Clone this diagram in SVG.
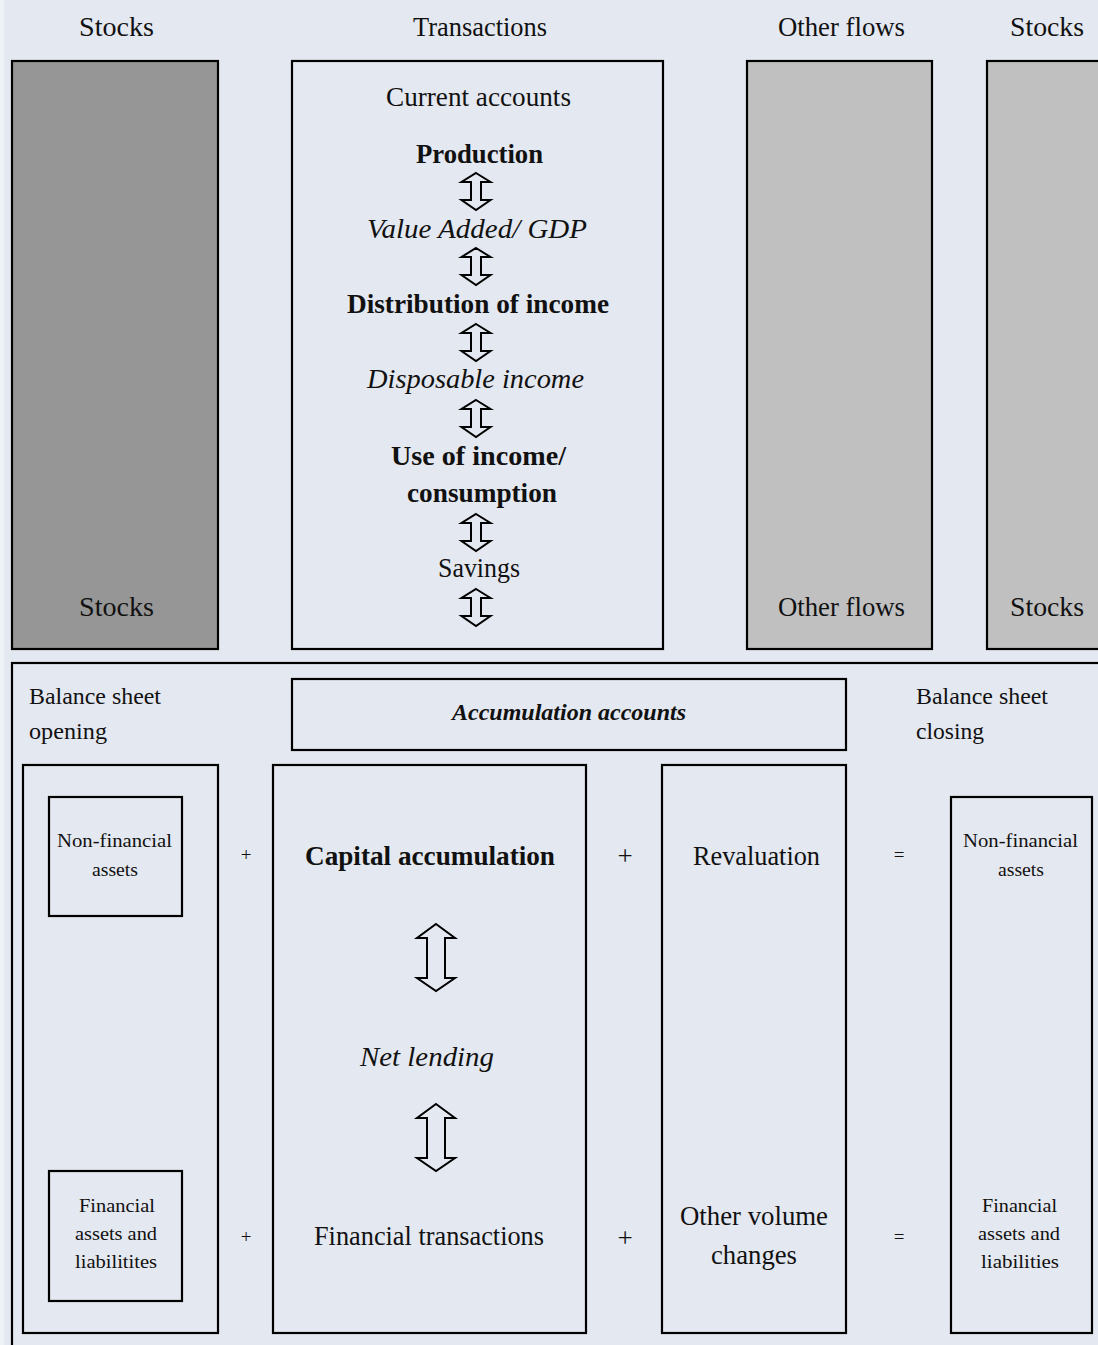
<svg xmlns="http://www.w3.org/2000/svg" width="1098" height="1345" viewBox="0 0 1098 1345" font-family="'Liberation Serif', 'Times New Roman', Times, 'DejaVu Serif', serif">
<defs>
<style>
text{font-family:'Liberation Serif','Times New Roman',Times,'DejaVu Serif',serif;fill:#111;}
.h{font-size:28px;text-anchor:middle;}
.m{font-size:27px;text-anchor:middle;}
.b{font-weight:bold;}
.i{font-style:italic;}
.s{font-size:19px;text-anchor:middle;}
.l{font-size:23px;}
.box{stroke:#000;stroke-width:2.2;}
.arr{fill:none;stroke:#000;stroke-width:2;stroke-linejoin:miter;}
</style>
<path id="sa" d="M0,0 L14.5,9 L5,9 L5,27 L14.5,27 L0,37 L-14.5,27 L-5,27 L-5,9 L-14.5,9 Z"/>
<path id="la" d="M0,0 L19,14 L9,14 L9,54 L19,54 L0,67 L-19,54 L-9,54 L-9,14 L-19,14 Z"/>
</defs>
<rect x="0" y="0" width="1098" height="1345" fill="#E4E8F0"/>
<rect x="0" y="0" width="4" height="1345" fill="#EEF1F5"/>

<g id="col-headers">
<text class="h" x="116.5" y="36" textLength="75" lengthAdjust="spacingAndGlyphs">Stocks</text>
<text class="h" x="480" y="36" textLength="134" lengthAdjust="spacingAndGlyphs">Transactions</text>
<text class="h" x="841.5" y="36" textLength="127" lengthAdjust="spacingAndGlyphs">Other flows</text>
<text class="h" x="1047" y="36" textLength="74" lengthAdjust="spacingAndGlyphs">Stocks</text>
</g>

<g id="stocks-opening">
<rect class="box" x="12" y="61" width="206" height="588" fill="#969696"/>
<text class="h" x="116.5" y="616" textLength="75" lengthAdjust="spacingAndGlyphs">Stocks</text>
</g>

<g id="current-accounts">
<rect class="box" x="292" y="61" width="371" height="588" fill="#E4E8F0"/>
<text class="m" x="478.5" y="106" textLength="185" lengthAdjust="spacingAndGlyphs">Current accounts</text>
<text class="m b" x="479.5" y="163" textLength="127" lengthAdjust="spacingAndGlyphs">Production</text>
<text class="m i" x="477" y="238" textLength="220" lengthAdjust="spacingAndGlyphs">Value Added/ GDP</text>
<text class="m b" x="478" y="313" textLength="262" lengthAdjust="spacingAndGlyphs">Distribution of income</text>
<text class="m i" x="475.5" y="388" textLength="217" lengthAdjust="spacingAndGlyphs">Disposable income</text>
<text class="m b" x="478.5" y="465" textLength="175" lengthAdjust="spacingAndGlyphs">Use of income/</text>
<text class="m b" x="482" y="502" textLength="150" lengthAdjust="spacingAndGlyphs">consumption</text>
<text class="m" x="479" y="577" textLength="82" lengthAdjust="spacingAndGlyphs">Savings</text>
</g>

<g id="other-flows">
<rect class="box" x="747" y="61" width="185" height="588" fill="#C0C0C0"/>
<text class="h" x="841.5" y="616" textLength="127" lengthAdjust="spacingAndGlyphs">Other flows</text>
</g>

<g id="stocks-closing">
<rect class="box" x="987" y="61" width="130" height="588" fill="#C0C0C0"/>
<text class="h" x="1047" y="616" textLength="74" lengthAdjust="spacingAndGlyphs">Stocks</text>
</g>

<g id="accumulation-frame">
<rect class="box" x="12" y="663" width="1100" height="700" fill="none"/>
<text class="l" x="29" y="704" textLength="132" lengthAdjust="spacingAndGlyphs">Balance sheet</text>
<text class="l" x="29" y="739" textLength="78" lengthAdjust="spacingAndGlyphs">opening</text>
<text class="l" x="916" y="704" textLength="132" lengthAdjust="spacingAndGlyphs">Balance sheet</text>
<text class="l" x="916" y="739" textLength="68" lengthAdjust="spacingAndGlyphs">closing</text>
</g>

<g id="accumulation-accounts">
<rect class="box" x="292" y="679" width="554" height="71" fill="none"/>
<text class="l b i" x="569" y="720" text-anchor="middle" textLength="234" lengthAdjust="spacingAndGlyphs">Accumulation accounts</text>
</g>

<g id="balance-opening">
<rect class="box" x="23" y="765" width="195" height="568" fill="none"/>
</g>
<g id="nfa-opening">
<rect class="box" x="49" y="797" width="133" height="119" fill="none"/>
<text class="s" x="114.5" y="847" textLength="115" lengthAdjust="spacingAndGlyphs">Non-financial</text>
<text class="s" x="115" y="876" textLength="46" lengthAdjust="spacingAndGlyphs">assets</text>
</g>
<g id="fa-opening">
<rect class="box" x="49" y="1171" width="133" height="130" fill="none"/>
<text class="s" x="117" y="1212" textLength="76" lengthAdjust="spacingAndGlyphs">Financial</text>
<text class="s" x="116" y="1240" textLength="82" lengthAdjust="spacingAndGlyphs">assets and</text>
<text class="s" x="116" y="1268" textLength="82" lengthAdjust="spacingAndGlyphs">liabilitites</text>
</g>

<g id="capital">
<rect class="box" x="273" y="765" width="313" height="568" fill="none"/>
<text class="m b" x="430" y="865" textLength="250" lengthAdjust="spacingAndGlyphs">Capital accumulation</text>
<text class="m i" x="427" y="1066" textLength="134" lengthAdjust="spacingAndGlyphs">Net lending</text>
<text class="m" x="429" y="1245" textLength="230" lengthAdjust="spacingAndGlyphs">Financial transactions</text>
</g>

<g id="revaluation">
<rect class="box" x="662" y="765" width="184" height="568" fill="none"/>
<text class="m" x="756.5" y="865" textLength="127" lengthAdjust="spacingAndGlyphs">Revaluation</text>
<text class="m" x="754" y="1225" textLength="148" lengthAdjust="spacingAndGlyphs">Other volume</text>
<text class="m" x="754" y="1264" textLength="86" lengthAdjust="spacingAndGlyphs">changes</text>
</g>

<g id="balance-closing">
<rect class="box" x="951" y="797" width="141" height="536" fill="none"/>
<text class="s" x="1020.5" y="847" textLength="115" lengthAdjust="spacingAndGlyphs">Non-financial</text>
<text class="s" x="1021" y="876" textLength="46" lengthAdjust="spacingAndGlyphs">assets</text>
<text class="s" x="1019.5" y="1212" textLength="75" lengthAdjust="spacingAndGlyphs">Financial</text>
<text class="s" x="1019" y="1240" textLength="82" lengthAdjust="spacingAndGlyphs">assets and</text>
<text class="s" x="1020" y="1268" textLength="78" lengthAdjust="spacingAndGlyphs">liabilities</text>
</g>

<g id="operators">
<text class="s" x="246" y="861">+</text>
<text class="s" x="246" y="1243">+</text>
<text class="m" x="625" y="865">+</text>
<text class="m" x="625" y="1247">+</text>
<text class="s" x="899" y="861">=</text>
<text class="s" x="899" y="1243">=</text>
</g>

<g id="connectors">
<use href="#sa" class="arr" x="476" y="173"/>
<use href="#sa" class="arr" x="476" y="248"/>
<use href="#sa" class="arr" x="476" y="324"/>
<use href="#sa" class="arr" x="476" y="400"/>
<use href="#sa" class="arr" x="476" y="514"/>
<use href="#sa" class="arr" x="476" y="589"/>
<use href="#la" class="arr" x="436" y="924"/>
<use href="#la" class="arr" x="436" y="1104"/>
</g>
</svg>
